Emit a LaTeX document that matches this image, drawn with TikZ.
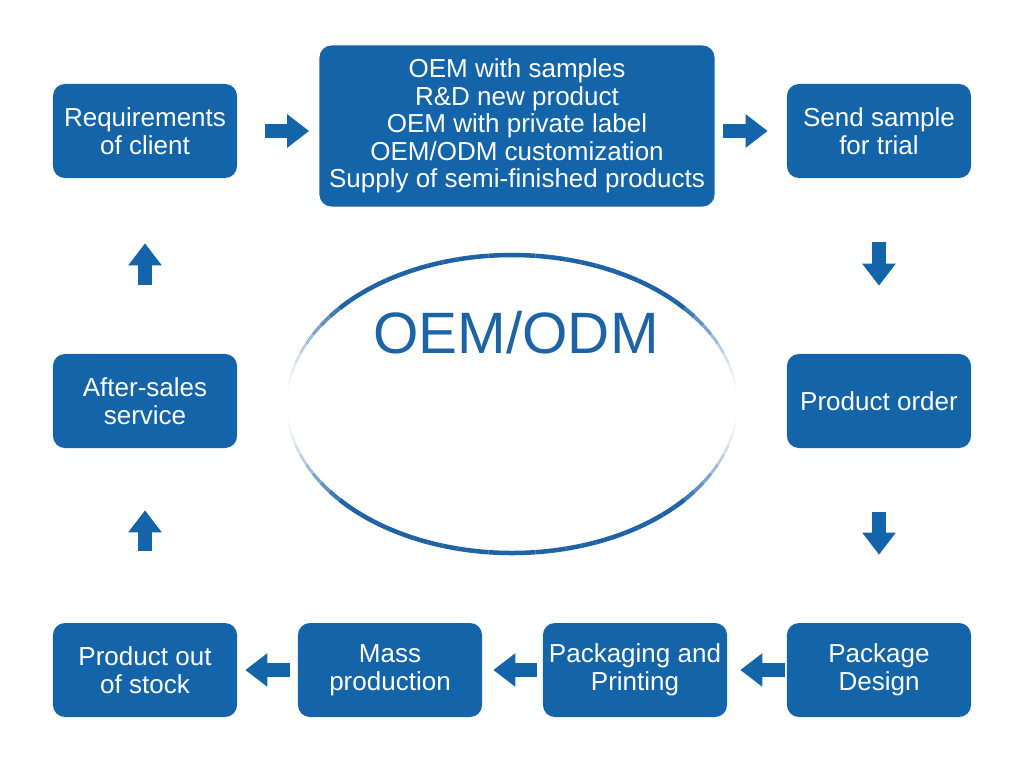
\documentclass[tikz,border=0pt]{standalone}
\usepackage{fontspec}
\setmainfont{Liberation Sans}
\usetikzlibrary{arrows.meta}
\definecolor{boxblue}{RGB}{19,100,168}
\definecolor{ringblue}{RGB}{30,100,165}
\begin{document}
\begin{tikzpicture}[x=0.025cm, y=-0.025cm,
    stage/.style={fill=boxblue, rounded corners=0.3cm, minimum width=4.6cm, minimum height=2.35cm, inner sep=0pt,
      text=white, align=center, font=\fontsize{18.5}{20}\selectfont},
    flow/.style={draw=boxblue, line width=0.36cm, -{Triangle[width=0.8cm, length=0.55cm]}}]
      \useasboundingbox[fill=white] (0,0) rectangle (1024,759);
      \foreach \a in {0,4,...,356}{
        \pgfmathsetmacro\op{min(1,1.5*abs(sin(\a+2)))^2}
        \pgfmathsetmacro\lw{1.2+2*\op}
        \draw[ringblue, line width=\lw pt, opacity=\op] (512,404) ++(\a:225 and 149)
          arc[start angle=\a, end angle=\a+4, x radius=225, y radius=149];
      }
      \node[text=ringblue, font=\fontsize{41.5}{44}\selectfont] (title) at (516,333) {OEM/ODM};
      \node[stage] (req) at (145,131) {Requirements\\of client};
      \node[stage, minimum width=9.875cm, minimum height=4.025cm, font=\fontsize{18.5}{19.6}\selectfont] (oem) at (517,126)
        {OEM with samples\\R\&D new product\\OEM with private label\\OEM/ODM customization\\Supply of semi-finished products};
      \node[stage] (send) at (879,131) {Send sample\\for trial};
      \node[stage] (order) at (879,401) {Product order};
      \node[stage] (design) at (879,670) {Package\\Design};
      \node[stage] (print) at (635,670) {Packaging and\\Printing};
      \node[stage] (mass) at (390,670) {Mass\\production};
      \node[stage] (stock) at (145,670) {Product out\\of stock};
      \node[stage] (after) at (145,401) {After-sales\\service};
      \draw[flow, shorten <=0.7cm, shorten >=0.25cm] (req.east) -- (req.east -| oem.west);
      \draw[flow, shorten <=0.2cm, shorten >=0.475cm] (send.west -| oem.east) -- (send.west);
      \draw[flow, shorten <=1.6cm, shorten >=1.7cm] (send) -- (order);
      \draw[flow, shorten <=1.6cm, shorten >=1.7cm] (order) -- (design);
      \draw[flow, shorten <=0.05cm, shorten >=0.325cm] (design) -- (print);
      \draw[flow, shorten <=0.15cm, shorten >=0.275cm] (print) -- (mass);
      \draw[flow, shorten <=0.2cm, shorten >=0.2cm] (mass) -- (stock);
      \draw[flow, shorten <=1.8cm, shorten >=1.55cm] (stock) -- (after);
      \draw[flow, shorten <=1.725cm, shorten >=1.625cm] (after) -- (req);
\end{tikzpicture}
\end{document}
